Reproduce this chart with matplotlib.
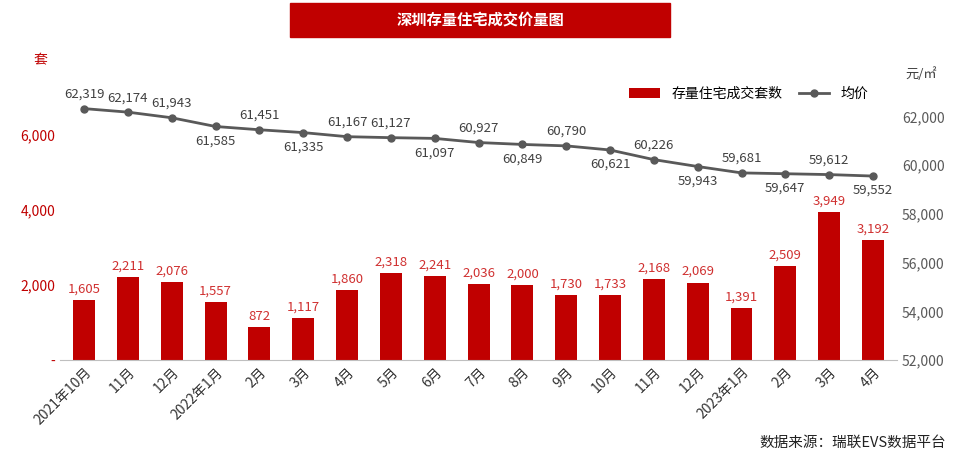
import matplotlib
matplotlib.use("Agg")
import matplotlib.pyplot as plt
from matplotlib.patches import Rectangle

plt.rcParams['font.family'] = ['Noto Sans CJK SC', 'DejaVu Sans']

months = ['2021年10月','11月','12月','2022年1月','2月','3月','4月','5月','6月','7月','8月','9月','10月','11月','12月','2023年1月','2月','3月','4月']
volume = [1605,2211,2076,1557,872,1117,1860,2318,2241,2036,2000,1730,1733,2168,2069,1391,2509,3949,3192]
price = [62319,62174,61943,61585,61451,61335,61167,61127,61097,60927,60849,60790,60621,60226,59943,59681,59647,59612,59552]
label_above = [1,1,1,0,1,0,1,1,0,1,0,1,0,1,0,1,0,1,0]

RED = '#C00000'
fig = plt.figure(figsize=(9.6, 4.57), dpi=100)
ax = fig.add_axes([0.0625, 0.212, 0.872, 0.656])
ax2 = ax.twinx()
x = list(range(len(months)))
ax.bar(x, volume, width=0.5, color=RED, label='存量住宅成交套数', zorder=2)
for xi, v in zip(x, volume):
    ax.text(xi, v + 120, f'{v:,}', ha='center', va='bottom', color='#D03030', fontsize=9.5)
ax.set_ylim(0, 8000)
ax.set_xlim(-0.55, len(months) - 0.45)
ax.set_yticks([0, 2000, 4000, 6000])
ax.set_yticklabels(['-', '2,000', '4,000', '6,000'], color=RED, fontsize=10)
ax.set_xticks(x)
ax.set_xticklabels(months, rotation=45, ha='right', rotation_mode='anchor', fontsize=10, color='#333333')
ax.tick_params(length=0)
for s in ax.spines.values():
    s.set_visible(False)
ax.spines['bottom'].set_visible(True)
ax.spines['bottom'].set_color('#BFBFBF')

ax2.plot(x, price, color='#595959', lw=2, marker='o', ms=5, label='均价', zorder=3)
for xi, p, a in zip(x, price, label_above):
    ax2.text(xi, p + (320 if a else -320), f'{p:,}', ha='center', va='bottom' if a else 'top', color='#404040', fontsize=9.5)
ax2.set_ylim(52000, 64300)
ax2.set_yticks(range(52000, 62001, 2000))
ax2.set_yticklabels([f'{t:,}' for t in range(52000, 62001, 2000)], color='#595959', fontsize=10)
ax2.tick_params(length=0)
for s in ax2.spines.values():
    s.set_visible(False)

h1, l1 = ax.get_legend_handles_labels()
h2, l2 = ax2.get_legend_handles_labels()
fig.legend(h1 + h2, l1 + l2, loc='center', bbox_to_anchor=(0.78, 0.795), ncol=2, frameon=False, fontsize=10, handlelength=2.2, columnspacing=1.2)

fig.patches.append(Rectangle((0.302, 0.92), 0.396, 0.074, transform=fig.transFigure, color=RED, zorder=0))
fig.text(0.5, 0.957, '深圳存量住宅成交价量图', ha='center', va='center', color='white', fontsize=11, fontweight='bold')
fig.text(0.042, 0.868, '套', color=RED, fontsize=10, ha='center', va='center')
fig.text(0.96, 0.838, '元/㎡', color='#404040', fontsize=9.5, ha='center', va='center')
fig.text(0.985, 0.03, '数据来源：瑞联EVS数据平台', ha='right', va='center', fontsize=10.5, color='#222222')
fig.savefig('out.png', dpi=100)
